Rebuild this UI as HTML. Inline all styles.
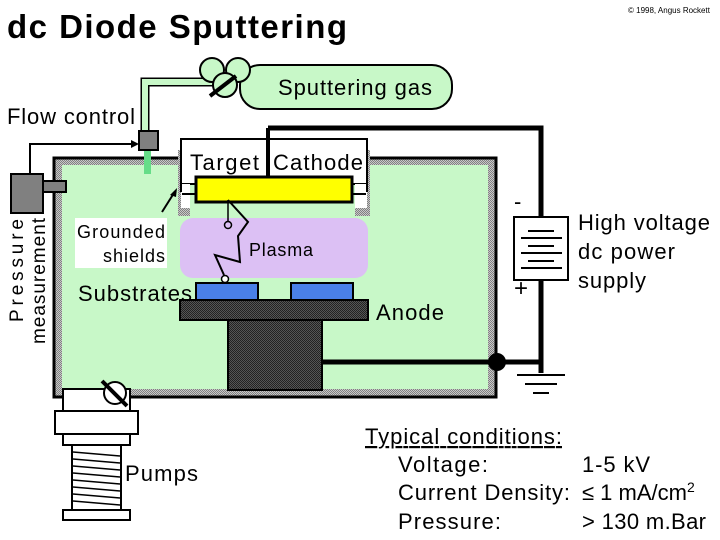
<!DOCTYPE html>
<html><head><meta charset="utf-8"><style>
html,body{margin:0;padding:0;background:#fff;}
svg{display:block;font-family:"Liberation Sans",Arial,sans-serif;}
</style></head><body>
<svg width="720" height="540" viewBox="0 0 720 540" xmlns="http://www.w3.org/2000/svg">
<defs>
<pattern id="hat" width="2" height="2" patternUnits="userSpaceOnUse"><rect width="2" height="2" fill="#c8c8c8"/><rect width="1" height="1" fill="#808080"/><rect x="1" y="1" width="1" height="1" fill="#808080"/></pattern>
<pattern id="dk" width="2" height="2" patternUnits="userSpaceOnUse"><rect width="2" height="2" fill="#555"/><rect width="1" height="1" fill="#222"/><rect x="1" y="1" width="1" height="1" fill="#222"/></pattern>
</defs>
<text x="7" y="38" font-size="33" font-weight="bold" textLength="340">dc Diode Sputtering</text>
<text x="628" y="13" font-size="8">© 1998, Angus Rockett</text>

<!-- gas bottle -->
<rect x="240" y="65" width="212" height="44" rx="20" fill="#c8f8c8" stroke="#000" stroke-width="2"/>
<text x="278" y="95" font-size="22" textLength="154">Sputtering gas</text>
<!-- gas tube -->
<path d="M145,140 V82 H215" fill="none" stroke="#000" stroke-width="9"/>
<path d="M145,140 V82 H215" fill="none" stroke="#c8f8c8" stroke-width="6"/>
<circle cx="212" cy="70" r="12" fill="#c8f8c8" stroke="#000" stroke-width="2"/>
<circle cx="238" cy="70" r="12" fill="#c8f8c8" stroke="#000" stroke-width="2"/>
<circle cx="225" cy="85" r="12" fill="#c8f8c8" stroke="#000" stroke-width="2"/>
<line x1="210" y1="96" x2="236" y2="76" stroke="#000" stroke-width="4"/>
<text x="7" y="124" font-size="22" textLength="128">Flow control</text>

<!-- chamber -->
<rect x="54" y="158" width="442" height="239" fill="url(#hat)" stroke="#000" stroke-width="3"/>
<rect x="62" y="165" width="426" height="224" fill="#c8f8c8"/>
<rect x="144" y="150" width="7" height="24" fill="#66dd88"/>
<!-- flow control box -->
<rect x="139" y="131" width="19" height="19" fill="#808080" stroke="#000" stroke-width="2"/>
<!-- pressure gauge -->
<path d="M30,173 V144 H133" fill="none" stroke="#000" stroke-width="2"/>
<polygon points="139,144 131,140 131,148" fill="#000"/>
<rect x="11" y="174" width="32" height="39" fill="#808080" stroke="#000" stroke-width="2"/>
<rect x="43" y="181" width="23" height="11" fill="#808080" stroke="#000" stroke-width="2"/>
<text transform="translate(23,322) rotate(-90)" font-size="19" textLength="103">Pressure</text>
<text transform="translate(45,344) rotate(-90)" font-size="19" textLength="126">measurement</text>

<!-- shields & cathode -->
<rect x="178" y="150" width="192" height="66" fill="url(#hat)"/>
<rect x="190" y="150" width="165" height="66" fill="#c8f8c8"/>
<rect x="181" y="139" width="186" height="45" fill="#fff" stroke="#000" stroke-width="2"/>
<rect x="181" y="184" width="9" height="24" fill="#fff"/>
<rect x="355" y="184" width="12" height="24" fill="#fff"/>
<line x1="181" y1="139" x2="181" y2="192" stroke="#000" stroke-width="2"/>
<line x1="367" y1="139" x2="367" y2="192" stroke="#000" stroke-width="2"/>
<line x1="182" y1="194" x2="196" y2="194" stroke="#000" stroke-width="2"/>
<line x1="352" y1="194" x2="366" y2="194" stroke="#000" stroke-width="2"/>
<rect x="196" y="177" width="156" height="25" fill="#ffff00" stroke="#000" stroke-width="3"/>
<text x="190" y="170" font-size="22" textLength="69">Target</text>
<text x="273" y="170" font-size="22" textLength="90">Cathode</text>
<line x1="268" y1="128" x2="268" y2="177" stroke="#000" stroke-width="4"/>
<path d="M268,128 H541 V362" fill="none" stroke="#000" stroke-width="5"/>
<line x1="162" y1="212" x2="174" y2="193" stroke="#000" stroke-width="2"/>
<polygon points="177,188 170,195 176,197" fill="#000"/>
<rect x="75" y="218" width="92" height="50" fill="#fff"/>
<text x="77" y="238" font-size="18" textLength="88">Grounded</text>
<text x="103" y="262" font-size="18" textLength="62">shields</text>

<!-- plasma -->
<rect x="180" y="218" width="188" height="60" rx="13" fill="#dcc0f4"/>
<text x="249" y="256" font-size="18" textLength="64">Plasma</text>
<line x1="228" y1="200" x2="228" y2="222" stroke="#000" stroke-width="1.5"/>
<circle cx="228" cy="225" r="3.5" fill="none" stroke="#000" stroke-width="1.5"/>
<path d="M228,200 L248,222 L238,236 L240,262 L215,255 L224,275" fill="none" stroke="#000" stroke-width="2"/>
<circle cx="225" cy="279" r="3.5" fill="#fff" stroke="#000" stroke-width="1.5"/>
<text x="78" y="301" font-size="22" textLength="114">Substrates</text>
<rect x="196" y="283" width="62" height="17" fill="#4a80e8" stroke="#000" stroke-width="2"/>
<rect x="291" y="283" width="62" height="17" fill="#4a80e8" stroke="#000" stroke-width="2"/>
<rect x="180" y="300" width="188" height="20" fill="url(#dk)" stroke="#000" stroke-width="2"/>
<rect x="228" y="320" width="94" height="70" fill="url(#dk)" stroke="#000" stroke-width="2"/>
<text x="376" y="320" font-size="22" textLength="68">Anode</text>
<line x1="322" y1="362" x2="541" y2="362" stroke="#000" stroke-width="5"/>
<circle cx="497" cy="362" r="9" fill="#000"/>
<!-- power supply -->
<rect x="514" y="217" width="54" height="63" fill="#fff" stroke="#000" stroke-width="2"/>
<line x1="528" y1="231" x2="554" y2="231" stroke="#000" stroke-width="2"/>
<line x1="521" y1="238" x2="562" y2="238" stroke="#000" stroke-width="2"/>
<line x1="528" y1="246" x2="554" y2="246" stroke="#000" stroke-width="2"/>
<line x1="521" y1="253" x2="562" y2="253" stroke="#000" stroke-width="2"/>
<line x1="528" y1="261" x2="554" y2="261" stroke="#000" stroke-width="2"/>
<line x1="521" y1="268" x2="562" y2="268" stroke="#000" stroke-width="2"/>
<text x="514" y="209" font-size="22">-</text>
<text x="514" y="296" font-size="24">+</text>
<text x="578" y="230" font-size="22" textLength="132">High voltage</text>
<text x="578" y="259" font-size="22" textLength="97">dc power</text>
<text x="578" y="288" font-size="22" textLength="68">supply</text>
<line x1="541" y1="345" x2="541" y2="373" stroke="#000" stroke-width="5"/>
<line x1="517" y1="375" x2="565" y2="375" stroke="#000" stroke-width="2"/>
<line x1="525" y1="384" x2="557" y2="384" stroke="#000" stroke-width="2"/>
<line x1="533" y1="393" x2="549" y2="393" stroke="#000" stroke-width="2"/>

<!-- pumps -->
<rect x="63" y="389" width="67" height="22" fill="#fff" stroke="#000" stroke-width="2"/>
<rect x="55" y="411" width="83" height="23" fill="#fff" stroke="#000" stroke-width="2"/>
<rect x="63" y="434" width="67" height="11" fill="#fff" stroke="#000" stroke-width="2"/>
<rect x="72" y="445" width="49" height="65" fill="#fff" stroke="#000" stroke-width="2"/>
<path d="M73,452 L120,456 M73,459 L120,463 M73,466 L120,470 M73,473 L120,477 M73,480 L120,484 M73,487 L120,491 M73,494 L120,498 M73,501 L120,505" stroke="#000" stroke-width="1.5"/>
<rect x="63" y="510" width="67" height="10" fill="#fff" stroke="#000" stroke-width="2"/>
<circle cx="115" cy="393" r="11" fill="#fff" stroke="#000" stroke-width="2"/>
<line x1="102" y1="381" x2="127" y2="406" stroke="#000" stroke-width="4"/>
<text x="125" y="481" font-size="22" textLength="73">Pumps</text>

<!-- conditions -->
<text x="365" y="444" font-size="22" text-decoration="underline" textLength="197">Typical conditions:</text>
<text x="398" y="472" font-size="22" textLength="90">Voltage:</text>
<text x="582" y="472" font-size="22" textLength="68">1-5 kV</text>
<text x="398" y="500" font-size="22" textLength="172">Current Density:</text>
<text x="582" y="500" font-size="22">≤ 1 mA/cm<tspan font-size="14" dy="-8">2</tspan></text>
<text x="398" y="529" font-size="22" textLength="103">Pressure:</text>
<text x="582" y="529" font-size="22" textLength="124">&gt; 130 m.Bar</text>
</svg>
</body></html>
